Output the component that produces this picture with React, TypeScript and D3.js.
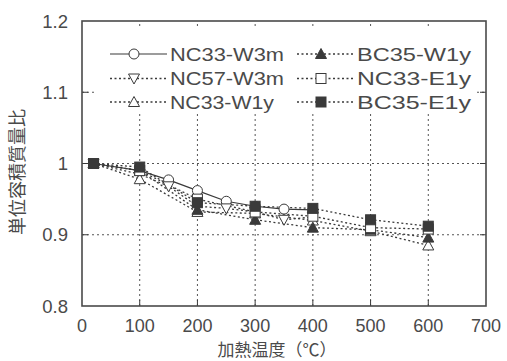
import React from "react";
import * as d3 from "d3";

const tempsW3m = [20, 100, 150, 200, 250, 300, 350, 400];
const temps1y = [20, 100, 200, 300, 400, 500, 600];
const nc33W3m = [1.0, 0.99, 0.977, 0.962, 0.947, 0.94, 0.936, 0.935];
const nc57W3m = [1.0, 0.985, 0.968, 0.94, 0.937, 0.932, 0.921, 0.925];
const nc33W1y = [1.0, 0.978, 0.932, 0.93, 0.92, 0.905, 0.885];
const bc35W1y = [1.0, 0.99, 0.935, 0.921, 0.91, 0.907, 0.896];
const nc33E1y = [1.0, 0.99, 0.95, 0.932, 0.926, 0.91, 0.908];
const bc35E1y = [1.0, 0.995, 0.945, 0.94, 0.937, 0.921, 0.912];

const xTicks = [0, 100, 200, 300, 400, 500, 600, 700];
const yTicks = [0.8, 0.9, 1.0, 1.1, 1.2];
const yTickLabels = ["0.8", "0.9", "1", "1.1", "1.2"];

type Marker = "circle" | "tridown" | "triup" | "triupFilled" | "square" | "squareFilled";
type Series = { name: string; xs: number[]; ys: number[]; marker: Marker; solid: boolean };

const series: Series[] = [
  { name: "NC33-W3m", xs: tempsW3m, ys: nc33W3m, marker: "circle", solid: true },
  { name: "NC57-W3m", xs: tempsW3m, ys: nc57W3m, marker: "tridown", solid: false },
  { name: "NC33-W1y", xs: temps1y, ys: nc33W1y, marker: "triup", solid: false },
  { name: "BC35-W1y", xs: temps1y, ys: bc35W1y, marker: "triupFilled", solid: false },
  { name: "NC33-E1y", xs: temps1y, ys: nc33E1y, marker: "square", solid: false },
  { name: "BC35-E1y", xs: temps1y, ys: bc35E1y, marker: "squareFilled", solid: false },
];

const INK = "#3a3a3a";
const TEXT = "#4a4a4a";
const FONT = "'Liberation Sans', Arial, 'Noto Sans CJK JP', sans-serif";
const JFONT = "'Noto Sans CJK JP', 'Liberation Sans', sans-serif";

function MarkerShape({ type, cx, cy }: { type: Marker; cx: number; cy: number }) {
  const s = 5;
  const common = { stroke: INK, strokeWidth: 1 };
  switch (type) {
    case "circle":
      return <circle cx={cx} cy={cy} r={5} fill="#fff" {...common} />;
    case "square":
      return <rect x={cx - s} y={cy - s} width={2 * s} height={2 * s} fill="#fff" {...common} />;
    case "squareFilled":
      return <rect x={cx - s} y={cy - s} width={2 * s} height={2 * s} fill={INK} {...common} />;
    case "triup":
      return <path d={`M${cx},${cy - 5.5}L${cx + 5.5},${cy + 4.5}L${cx - 5.5},${cy + 4.5}Z`} fill="#fff" {...common} />;
    case "triupFilled":
      return <path d={`M${cx},${cy - 5.5}L${cx + 5.5},${cy + 4.5}L${cx - 5.5},${cy + 4.5}Z`} fill={INK} {...common} />;
    case "tridown":
      return <path d={`M${cx},${cy + 5.5}L${cx + 5.5},${cy - 4.5}L${cx - 5.5},${cy - 4.5}Z`} fill="#fff" {...common} />;
  }
  return null;
}

export default function App() {
  const W = 507, H = 361;
  const x = d3.scaleLinear().domain([0, 700]).range([82, 486]);
  const y = d3.scaleLinear().domain([0.8, 1.2]).range([306, 21]);
  const line = d3.line<[number, number]>().x((d) => x(d[0])).y((d) => y(d[1]));

  const legendPos = [
    { lx: 110, row: 0 }, { lx: 110, row: 1 }, { lx: 110, row: 2 },
    { lx: 297, row: 0 }, { lx: 297, row: 1 }, { lx: 297, row: 2 },
  ];
  const rowY = [54, 78.5, 102];

  return (
    <svg width={W} height={H} style={{ position: "absolute", left: 0, top: 0, background: "#fff" }}>
      <rect width={W} height={H} fill="#fff" />
      {xTicks.filter((t) => t > 0 && t < 700).map((t) => (
        <line key={"gx" + t} x1={x(t)} x2={x(t)} y1={y(0.8)} y2={y(1.2)} stroke="#555" strokeWidth={1} strokeDasharray="2,3" />
      ))}
      {yTicks.filter((t) => t > 0.8 && t < 1.2).map((t) => (
        <line key={"gy" + t} x1={x(0)} x2={x(700)} y1={y(t)} y2={y(t)} stroke="#555" strokeWidth={1} strokeDasharray="2,3" />
      ))}
      <rect x={97} y={28} width={378} height={86} fill="#fff" />
      {yTicks.filter((t) => t > 0.8 && t < 1.2).map((t) => (
        <g key={"ty" + t}>
          <line x1={x(0)} x2={x(0) + 6} y1={y(t)} y2={y(t)} stroke={INK} strokeWidth={1} />
          <line x1={x(700) - 6} x2={x(700)} y1={y(t)} y2={y(t)} stroke={INK} strokeWidth={1} />
        </g>
      ))}
      {xTicks.filter((t) => t > 0 && t < 700).map((t) => (
        <line key={"tx" + t} x1={x(t)} x2={x(t)} y1={y(0.8)} y2={y(0.8) - 6} stroke={INK} strokeWidth={1} />
      ))}
      <rect x={x(0)} y={y(1.2)} width={x(700) - x(0)} height={y(0.8) - y(1.2)} fill="none" stroke="#4a4a4a" strokeWidth={1.6} />
      {series.map((s) => (
        <path
          key={"l" + s.name}
          d={line(s.xs.map((v, i) => [v, s.ys[i]] as [number, number])) || ""}
          fill="none"
          stroke={INK}
          strokeWidth={s.solid ? 1.2 : 1.3}
          strokeDasharray={s.solid ? undefined : "2,2.5"}
        />
      ))}
      {series.map((s) => (
        <g key={"m" + s.name}>
          {s.xs.map((v, i) => (
            <MarkerShape key={i} type={s.marker} cx={x(v)} cy={y(s.ys[i])} />
          ))}
        </g>
      ))}
      {series.map((s, i) => {
        const p = legendPos[i];
        const ly = rowY[p.row];
        return (
          <g key={"lg" + s.name}>
            <line x1={p.lx} x2={p.lx + 57} y1={ly} y2={ly} stroke={INK} strokeWidth={s.solid ? 1.2 : 1.3} strokeDasharray={s.solid ? undefined : "2,2.5"} />
            <MarkerShape type={s.marker} cx={p.lx + 24} cy={ly} />
            <text x={p.lx + 60} y={ly + 6.5} fontSize={17.5} fontFamily={FONT} fill={TEXT} textLength={s.name === "NC33-W1y" ? 104 : 114} lengthAdjust="spacingAndGlyphs">
              {s.name}
            </text>
          </g>
        );
      })}
      {yTicks.map((t, i) => (
        <text key={"yl" + t} x={68} y={y(t) + 6.5} textAnchor="end" fontSize={18.5} fontFamily={FONT} fill={TEXT}>
          {yTickLabels[i]}
        </text>
      ))}
      {xTicks.map((t) => (
        <text key={"xl" + t} x={x(t)} y={332} textAnchor="middle" fontSize={18} fontFamily={FONT} fill={TEXT}>
          {t}
        </text>
      ))}
      <text x={277} y={356} textAnchor="middle" fontSize={17} fontFamily={JFONT} fill={TEXT}>
        加熱温度（℃）
      </text>
      <text transform={`translate(24,172) rotate(-90)`} textAnchor="middle" fontSize={18} fontFamily={JFONT} fill={TEXT}>
        単位容積質量比
      </text>
    </svg>
  );
}
